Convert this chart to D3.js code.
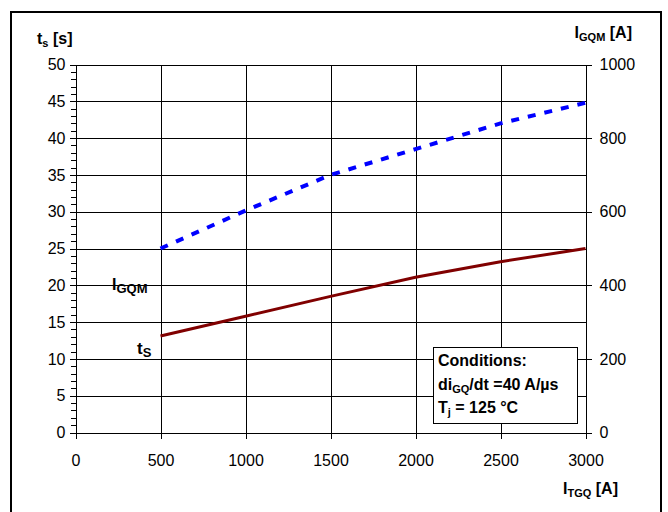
<!DOCTYPE html>
<html>
<head>
<meta charset="utf-8">
<script src="https://cdn.jsdelivr.net/npm/d3@7"></script>
<style>
  body { margin: 0; background: #fff; }
  svg text { font-family: "Liberation Sans", Arial, sans-serif; }
  .tick text { font-size: 16px; fill: #000; }
  .b { font-weight: bold; }
</style>
</head>
<body>
<svg width="668" height="512"></svg>
<script>
const currents = [500, 1000, 1500, 2000, 2500, 3000];
const tsValues = [13.1, 15.8, 18.5, 21.1, 23.2, 25.0];
const igqmValues = [500, 603, 700, 770, 840, 896];
const xTicks = [0, 500, 1000, 1500, 2000, 2500, 3000];
const yLeftTicks = [0, 5, 10, 15, 20, 25, 30, 35, 40, 45, 50];
const yRightTicks = [0, 200, 400, 600, 800, 1000];

const svg = d3.select('svg');
const plotLeft = 75.5, plotRight = 585.5, plotTop = 64.5, plotBottom = 432.5;

const x = d3.scaleLinear().domain([0, 3000]).range([plotLeft, plotRight]);
const yL = d3.scaleLinear().domain([0, 50]).range([plotBottom, plotTop]);
const yR = d3.scaleLinear().domain([0, 1000]).range([plotBottom, plotTop]);

// frame
svg.append('rect')
  .attr('x', 11).attr('y', 12).attr('width', 650).attr('height', 520)
  .attr('fill', 'none').attr('stroke', '#000').attr('stroke-width', 2);

// grid
const grid = svg.append('g').attr('stroke', '#000').attr('stroke-width', 1).attr('shape-rendering', 'crispEdges');
grid.selectAll('line.v')
  .data(xTicks.filter(d => d > 0 && d < 3000))
  .enter().append('line')
  .attr('x1', d => Math.round(x(d)) + 0.5).attr('x2', d => Math.round(x(d)) + 0.5)
  .attr('y1', plotTop).attr('y2', plotBottom);
grid.selectAll('line.h')
  .data(yLeftTicks.filter(d => d > 0))
  .enter().append('line')
  .attr('x1', plotLeft).attr('x2', plotRight)
  .attr('y1', d => Math.round(yL(d)) + 0.5).attr('y2', d => Math.round(yL(d)) + 0.5);

// axes
const minor = d3.range(0, 51, 1);
svg.append('g')
  .attr('transform', `translate(${plotLeft},0)`)
  .call(d3.axisLeft(yL).tickValues(minor).tickSize(5).tickFormat(''))
  .call(g => g.select('.domain').remove());
svg.append('g')
  .attr('transform', `translate(${plotLeft},0)`)
  .call(d3.axisLeft(yL).tickValues(yLeftTicks).tickSize(6).tickPadding(4).tickSizeOuter(0).tickFormat(d3.format('d')));
svg.append('g')
  .attr('transform', `translate(${plotRight},0)`)
  .call(d3.axisRight(yR).tickValues(yRightTicks).tickSize(6).tickPadding(8).tickSizeOuter(0).tickFormat(d3.format('d')));
svg.append('g')
  .attr('transform', `translate(0,${plotBottom})`)
  .call(d3.axisBottom(x).tickValues(xTicks).tickSize(6).tickPadding(16).tickSizeOuter(0).tickFormat(d3.format('d')));

svg.selectAll('.domain, .tick line').attr('stroke', '#000').attr('shape-rendering', 'crispEdges');

// curves
const lineTs = d3.line().x((d, i) => x(currents[i])).y(d => yL(d));
const lineIg = d3.line().x((d, i) => x(currents[i])).y(d => yR(d));

svg.append('path').datum(tsValues)
  .attr('d', lineTs).attr('fill', 'none')
  .attr('stroke', '#800000').attr('stroke-width', 3);
svg.append('path').datum(igqmValues)
  .attr('d', lineIg).attr('fill', 'none')
  .attr('stroke', '#0000ff').attr('stroke-width', 4)
  .attr('stroke-dasharray', '8 9');

// labels
svg.append('text').attr('class', 'b').attr('x', 37).attr('y', 44).attr('font-size', 16)
  .html('t<tspan font-size="11" dy="3">s</tspan><tspan dy="-3"> [s]</tspan>');
svg.append('text').attr('class', 'b').attr('x', 632).attr('y', 38).attr('font-size', 16)
  .attr('text-anchor', 'end')
  .html('I<tspan font-size="11" dy="3">GQM</tspan><tspan dy="-3"> [A]</tspan>');
svg.append('text').attr('class', 'b').attr('x', 618).attr('y', 494).attr('font-size', 16)
  .attr('text-anchor', 'end')
  .html('I<tspan font-size="11" dy="3">TGQ</tspan><tspan dy="-3"> [A]</tspan>');
svg.append('text').attr('class', 'b').attr('x', 112).attr('y', 290).attr('font-size', 16)
  .html('I<tspan font-size="13" dy="3">GQM</tspan>');
svg.append('text').attr('class', 'b').attr('x', 137).attr('y', 354).attr('font-size', 17)
  .html('t<tspan font-size="13" dy="3">S</tspan>');

// conditions box
const box = svg.append('g');
box.append('rect').attr('x', 433.5).attr('y', 347.5).attr('width', 144).attr('height', 76)
  .attr('fill', '#fff').attr('stroke', '#000').attr('stroke-width', 1);
box.append('text').attr('class', 'b').attr('x', 438).attr('y', 366).attr('font-size', 16)
  .text('Conditions:');
box.append('text').attr('class', 'b').attr('x', 438).attr('y', 390).attr('font-size', 16)
  .html('di<tspan font-size="11" dy="3">GQ</tspan><tspan dy="-3">/dt =40 A/µs</tspan>');
box.append('text').attr('class', 'b').attr('x', 438).attr('y', 413).attr('font-size', 16)
  .html('T<tspan font-size="11" dy="3">j</tspan><tspan dy="-3"> = 125 °C</tspan>');
</script>
</body>
</html>
